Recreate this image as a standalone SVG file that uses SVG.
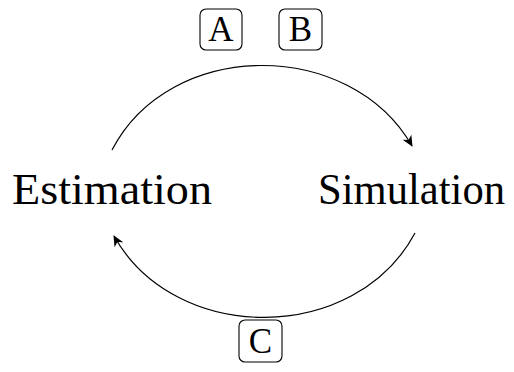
<svg xmlns="http://www.w3.org/2000/svg" width="514" height="372" viewBox="0 0 514 372">
<defs>
<style>
.lbl{font-family:"Liberation Serif","Times New Roman",serif;fill:#000}
.big{font-size:44px}
.sm{font-size:35px;text-anchor:middle}
.box{fill:#fff;stroke:#000;stroke-width:1.1}
.edge{fill:none;stroke:#000;stroke-width:1.2}
</style>
<marker id="arr" viewBox="-12 -7 14 14" refX="0" refY="0" markerWidth="14" markerHeight="14" markerUnits="userSpaceOnUse" orient="auto">
<path d="M1,0 L-10,-5 L-7,0 L-10,5 Z" fill="#000"/>
</marker>
</defs>
<rect width="514" height="372" fill="#fff"/>
<g id="connectors">
<path class="edge" d="M112,150 C 170,38 350,38 412,146" marker-end="url(#arr)"/>
<path class="edge" d="M415,233 C 355,345 175,345 114,236" marker-end="url(#arr)"/>
</g>
<g id="estimation"><text class="lbl big" x="12" y="204" textLength="200" lengthAdjust="spacingAndGlyphs">Estimation</text></g>
<g id="simulation"><text class="lbl big" x="318" y="204" textLength="187" lengthAdjust="spacingAndGlyphs">Simulation</text></g>
<g id="labelA"><rect class="box" x="200" y="9" width="42" height="41" rx="6"/><text class="lbl sm" x="221" y="41">A</text></g>
<g id="labelB"><rect class="box" x="279" y="9" width="43" height="41" rx="6"/><text class="lbl sm" x="300.5" y="41">B</text></g>
<g id="labelC"><rect class="box" x="239" y="320" width="43" height="42" rx="6"/><text class="lbl sm" x="260.5" y="353">C</text></g>
</svg>
